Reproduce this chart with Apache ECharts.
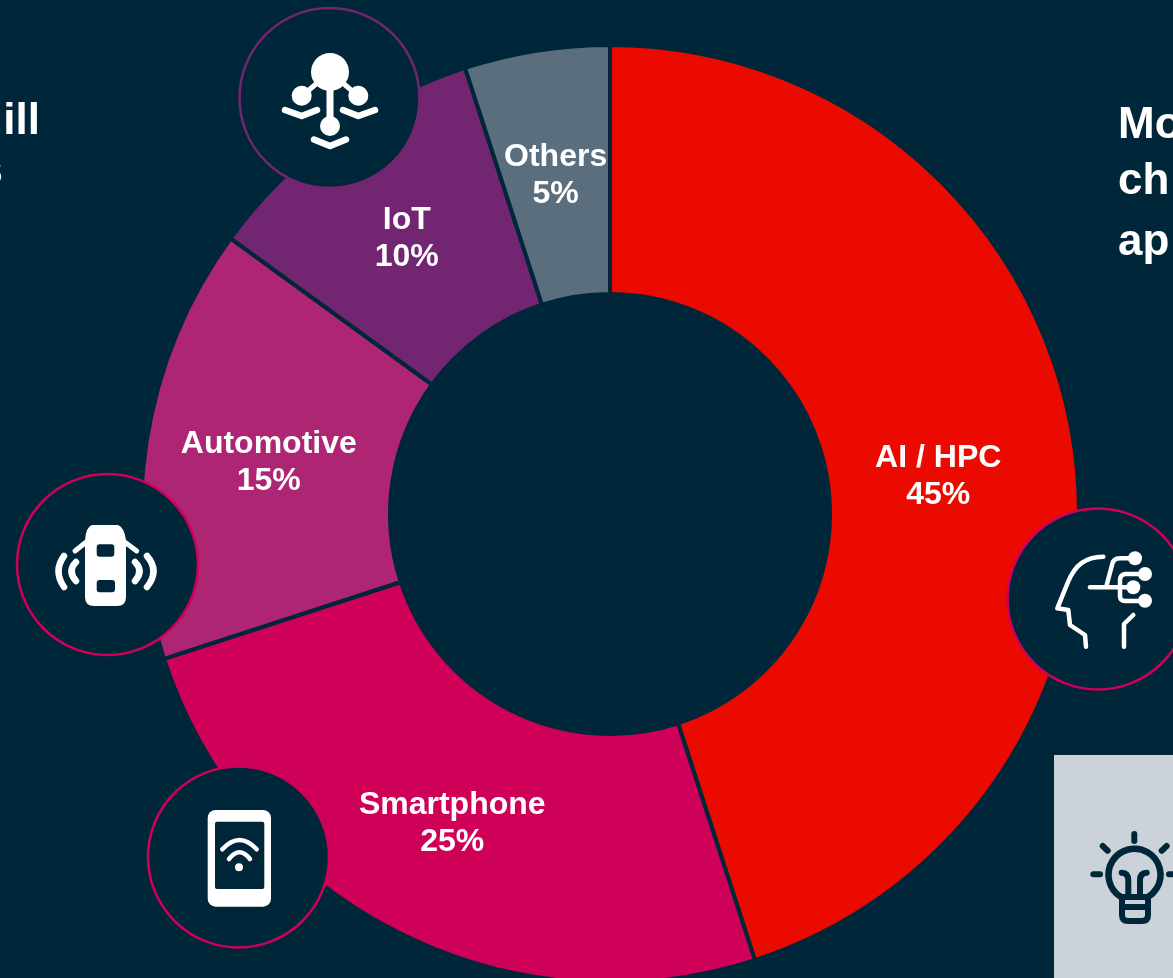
<!DOCTYPE html>
<html>
<head>
<meta charset="utf-8">
<style>html,body{margin:0;padding:0;background:#00263A;overflow:hidden}#c{width:1173px;height:978px}</style>
<script src="https://cdn.jsdelivr.net/npm/echarts@6/dist/echarts.min.js"></script>
</head>
<body>
<div id="c"></div>
<script>
const categories = ['AI / HPC', 'Smartphone', 'Automotive', 'IoT', 'Others'];
const shares = [45, 25, 15, 10, 5];
const sliceColors = ['#EB0A00', '#CE0058', '#AE2573', '#722570', '#5B6E7D'];
const leftText = ['ill', 's'];
const rightText = ['Mo', 'ch', 'ap'];

const BG = '#00263A', WHITE = '#FFFFFF', PANEL = '#CBD2D9';
const g = [];
let pathId = 0;
function shapeOf(d) {
  const name = 'iconPath' + (pathId++);
  echarts.graphic.registerShape(name, echarts.graphic.extendPath(d, {}));
  return name;
}
function circle(cx, cy, r, fill, stroke, lw) {
  g.push({type:'circle', z:10, shape:{cx, cy, r}, style:{fill:fill||'none', stroke:stroke||'none', lineWidth:lw||0}});
}
function dot(cx, cy, r, fill) { circle(cx, cy, r, fill || WHITE); }
function line(d, lw, color) {
  g.push({type:shapeOf(d), z:11, style:{fill:'none', stroke:color||WHITE, lineWidth:lw, lineCap:'round', lineJoin:'round'}});
}
function fillPath(d, color) {
  g.push({type:shapeOf(d), z:11, style:{fill:color||WHITE, stroke:'none'}});
}
function rrect(x, y, w, h, r, fill) {
  g.push({type:'rect', z:12, shape:{x, y, width:w, height:h, r}, style:{fill}});
}
function text(t, x, y, size, align) {
  g.push({type:'text', z:5, x, y, style:{text:t, fill:WHITE, font:'bold '+size+'px "Liberation Sans", Arial, sans-serif', textAlign:align}});
}

// clipped side texts
text(leftText[0], 40, 100, 44, 'right');
text(leftText[1], 3, 150, 44, 'right');
text(rightText[0], 1118, 104, 44, 'left');
text(rightText[1], 1118, 160, 44, 'left');
text(rightText[2], 1118, 221, 44, 'left');

// IoT badge
circle(329.5, 98, 90, BG, '#722570', 2.5);
dot(330, 72, 19); dot(301.7, 95.7, 10); dot(358.3, 95.7, 10); dot(330, 126, 10);
line('M330 72L330 126', 7);
line('M316 84L302 96M344 84L358 96', 5);
line('M285 110L301.7 116L317 110M343 110L358.3 116L375 110M314 139.5L330 146L346 139.5', 6.5);

// Automotive badge
circle(107.5, 564.5, 90.5, BG, '#CE0058', 2.5);
fillPath('M92 525L118 525Q124 527 126 540L126 597Q126 606 117 606L94 606Q85 606 85 597L85 540Q86 527 92 525Z');
rrect(96.7, 544.3, 17.6, 12.4, 3, BG);
rrect(96.7, 580, 18.3, 12.3, 3, BG);
line('M86 542.3L75 551M125 542.3L136.7 551', 5);
line('M76 562Q67 571 76 581M64 556Q53 571 64 587M135 562Q144 571 135 581M147 556Q160 571 147 587', 6.5);

// Smartphone badge
circle(238.5, 857, 90.5, BG, '#CE0058', 2.5);
rrect(207.7, 810, 63.3, 96.7, 8, WHITE);
rrect(215, 821.7, 49.3, 67.3, 2, BG);
g.push({type:shapeOf('M222.3 849.3Q239.5 830.7 256.7 849.3M229 859Q239.5 845.6 250 859'), z:13, style:{fill:'none', stroke:WHITE, lineWidth:4.5, lineCap:'round'}});
g.push({type:'circle', z:13, shape:{cx:239, cy:867.3, r:4}, style:{fill:WHITE}});

// AI badge
circle(1098, 599, 90.5, BG, '#CE0058', 2.5);
line('M1103.3 556.7C1085 557 1075 565 1068 582L1057.3 608.3L1068.3 610L1070 625L1085 635L1086 646.7', 4.5);
line('M1090 587.3L1133 587.3', 4.5);
line('M1106.7 585L1112 565Q1113 558.3 1120 558.3L1135 558.3', 4.5);
line('M1145 574L1125 574Q1120 575 1120 580L1120 596Q1120 601 1125 601L1145 601', 4.5);
line('M1133.3 615L1124 624L1124 646.7', 4.5);
g.push({type:'circle', z:13, shape:{cx:1135, cy:558.3, r:7}, style:{fill:WHITE}});
g.push({type:'circle', z:13, shape:{cx:1145, cy:574, r:7}, style:{fill:WHITE}});
g.push({type:'circle', z:13, shape:{cx:1133.3, cy:587.3, r:7}, style:{fill:WHITE}});
g.push({type:'circle', z:13, shape:{cx:1145, cy:600.7, r:7}, style:{fill:WHITE}});

// light-bulb panel
g.push({type:'rect', z:4, shape:{x:1054, y:755, width:119, height:223}, style:{fill:PANEL}});
line('M1121 897A26 26 0 1 1 1148 897', 6.5, BG);
line('M1122 897L1122 915Q1122 921 1128 921L1142 921Q1148 921 1148 915L1148 897L1122 897M1122 907L1148 907', 6, BG);
line('M1121.7 872.7Q1128.3 873 1128.3 880L1128.3 896M1146.7 872.7Q1140 873 1140 880L1140 896', 6, BG);
line('M1134.3 834L1134.3 841M1102.7 846L1107.7 850.7M1161.7 850.7L1166.7 846M1093.3 874.3L1100 874.3M1169 874.3L1176 874.3', 6, BG);

const labelOffsets = {'AI / HPC':[-15, 17], 'Automotive':[2, 3], 'IoT':[1, 6], 'Others':[0, 5]};

const chart = echarts.init(document.getElementById('c'), null, {renderer:'canvas'});
chart.setOption({
  backgroundColor: BG,
  animation: false,
  graphic: {elements: g},
  series: [{
    type: 'pie',
    center: [610, 514],
    radius: [220, 469],
    startAngle: 90,
    clockwise: true,
    silent: true,
    avoidLabelOverlap: false,
    itemStyle: {borderColor: BG, borderWidth: 4},
    label: {
      show: true, position: 'inside', formatter: '{b}\n{c}%',
      color: WHITE, fontFamily: '"Liberation Sans", Arial, sans-serif',
      fontWeight: 'bold', fontSize: 32, lineHeight: 37, align: 'center'
    },
    labelLine: {show: false},
    data: categories.map((name, i) => ({
      name, value: shares[i],
      itemStyle: {color: sliceColors[i]},
      label: labelOffsets[name] ? {offset: labelOffsets[name]} : undefined
    }))
  }]
});
</script>
</body>
</html>
